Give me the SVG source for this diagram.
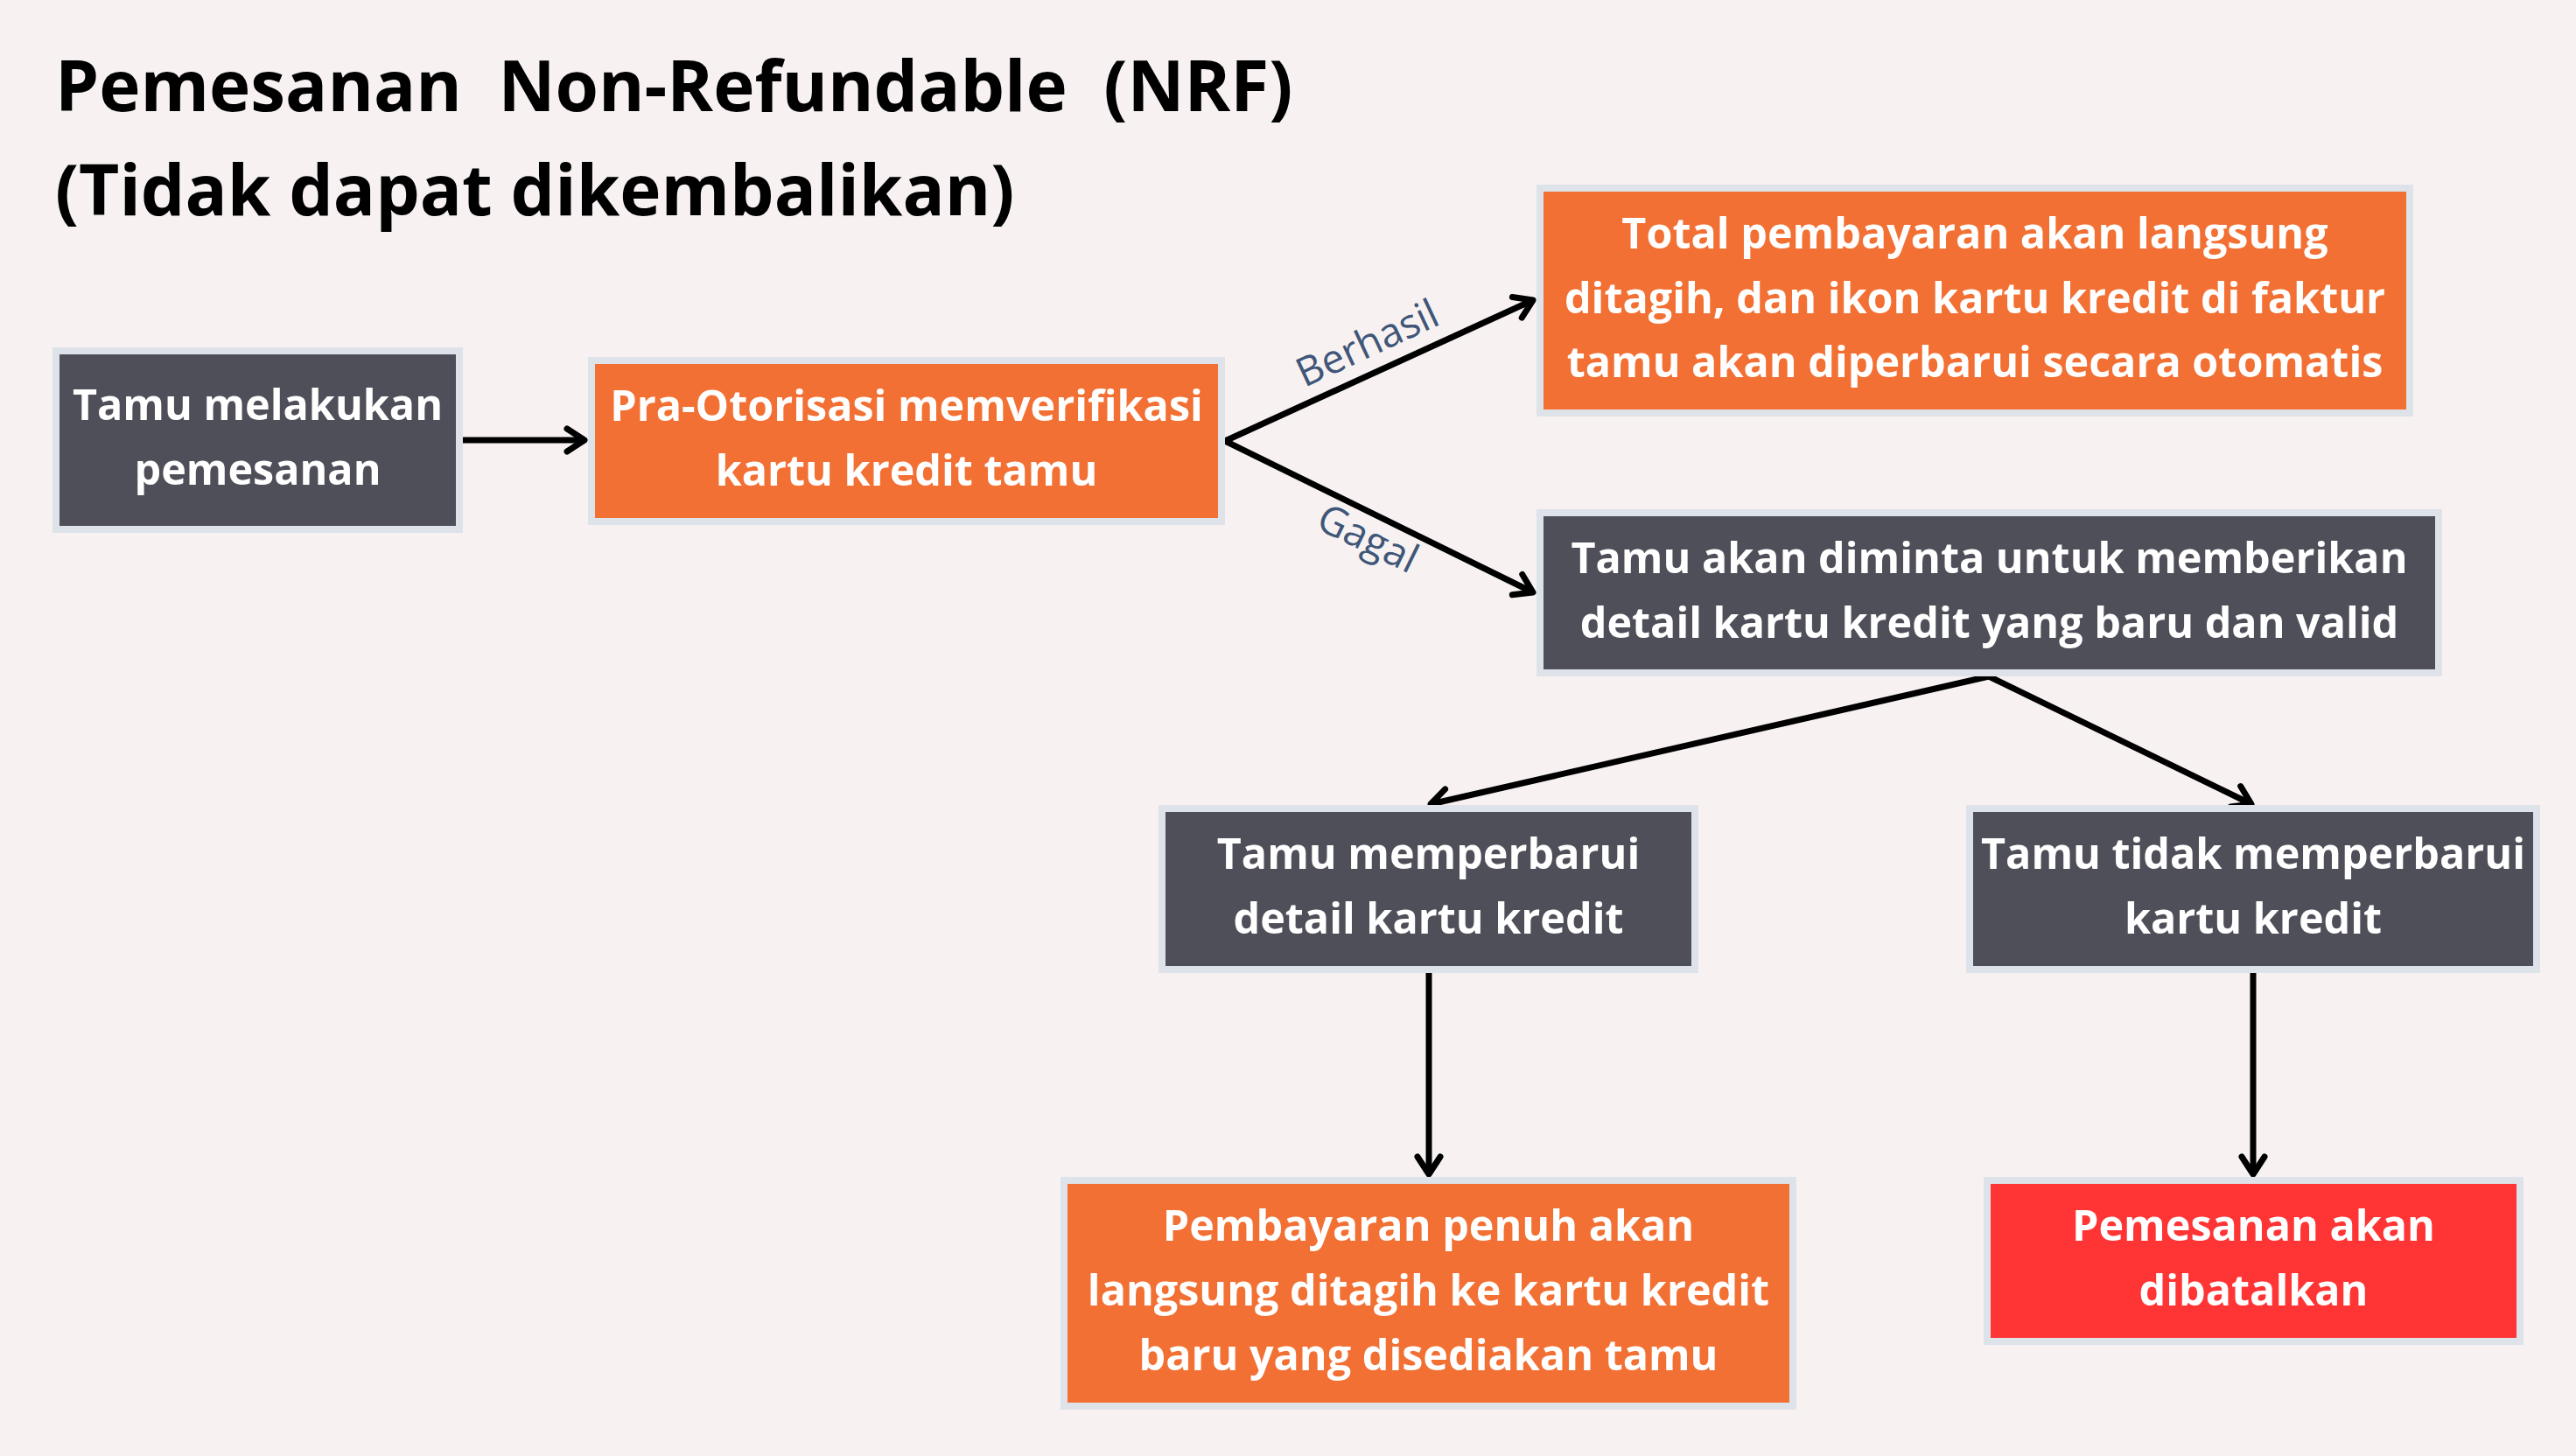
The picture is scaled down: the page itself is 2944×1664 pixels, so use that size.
<svg xmlns="http://www.w3.org/2000/svg" width="2944" height="1664" viewBox="0 0 2944 1664">
<style>
.bg{fill:#f7f2f1}
.box{stroke:#dee2e9;stroke-width:8}
.dark{fill:#4e4f59}
.orange{fill:#f27033}
.red{fill:#ff3434}
.t{font-family:"Open Sans","Noto Sans",sans-serif;font-weight:700;font-size:48.5px;fill:#ffffff;text-anchor:middle}
.title{font-family:"Open Sans","Noto Sans",sans-serif;font-weight:700;font-size:80px;fill:#000000}
.lbl{font-family:"Open Sans","Noto Sans",sans-serif;font-weight:400;font-size:46px;fill:#3f5679;text-anchor:middle}
.edge{fill:none;stroke:#000;stroke-width:7}
</style>
<defs>
<marker id="arr" markerUnits="userSpaceOnUse" orient="auto" refX="0" refY="0" markerWidth="40" markerHeight="40" viewBox="-30 -20 40 40" overflow="visible">
<path d="M -20 -13 L 0 0 L -20 13" fill="none" stroke="#000" stroke-width="7" stroke-linecap="round" stroke-linejoin="round"/>
</marker>
</defs>
<rect class="bg" x="0" y="0" width="2944" height="1664"/>
<g id="title">
<text class="title" x="63" y="127" xml:space="preserve">Pemesanan  Non-Refundable  (NRF)</text>
<text class="title" x="63" y="246">(Tidak dapat dikembalikan)</text>
</g>
<g id="connectors">
<line class="edge" x1="529" y1="503" x2="668" y2="503" marker-end="url(#arr)"/>
<line class="edge" x1="1400" y1="504" x2="1752" y2="343" marker-end="url(#arr)"/>
<line class="edge" x1="1400" y1="504" x2="1752" y2="677" marker-end="url(#arr)"/>
<line class="edge" x1="2273" y1="773" x2="1635" y2="919" marker-end="url(#arr)"/>
<line class="edge" x1="2273" y1="773" x2="2573" y2="919" marker-end="url(#arr)"/>
<line class="edge" x1="1633" y1="1112" x2="1633" y2="1342" stroke-width="6" marker-end="url(#arr)"/>
<line class="edge" x1="2575" y1="1112" x2="2575" y2="1342" stroke-width="6" marker-end="url(#arr)"/>
<text class="lbl" x="0" y="15" transform="translate(1563 393) rotate(-25)">Berhasil</text>
<text class="lbl" x="0" y="15" transform="translate(1563 616) rotate(26)">Gagal</text>
</g>
<g id="n1">
<rect class="box dark" x="64" y="401" width="461" height="204"/>
<text class="t" x="294.5" y="480">Tamu melakukan</text>
<text class="t" x="294.5" y="554">pemesanan</text>
</g>
<g id="n2">
<rect class="box orange" x="676" y="412" width="720" height="184"/>
<text class="t" x="1036" y="481">Pra-Otorisasi memverifikasi</text>
<text class="t" x="1036" y="555">kartu kredit tamu</text>
</g>
<g id="n3">
<rect class="box orange" x="1760" y="215" width="994" height="257"/>
<text class="t" x="2257" y="284">Total pembayaran akan langsung</text>
<text class="t" x="2257" y="358">ditagih, dan ikon kartu kredit di faktur</text>
<text class="t" x="2257" y="431">tamu akan diperbarui secara otomatis</text>
</g>
<g id="n4">
<rect class="box dark" x="1760" y="586" width="1027" height="183"/>
<text class="t" x="2273.5" y="655">Tamu akan diminta untuk memberikan</text>
<text class="t" x="2273.5" y="729">detail kartu kredit yang baru dan valid</text>
</g>
<g id="n5">
<rect class="box dark" x="1328" y="924" width="609" height="184"/>
<text class="t" x="1632.5" y="993">Tamu memperbarui</text>
<text class="t" x="1632.5" y="1067">detail kartu kredit</text>
</g>
<g id="n6">
<rect class="box dark" x="2251" y="924" width="648" height="184"/>
<text class="t" x="2575" y="993">Tamu tidak memperbarui</text>
<text class="t" x="2575" y="1067">kartu kredit</text>
</g>
<g id="n7">
<rect class="box orange" x="1216" y="1349" width="833" height="258"/>
<text class="t" x="1632.5" y="1418">Pembayaran penuh akan</text>
<text class="t" x="1632.5" y="1492">langsung ditagih ke kartu kredit</text>
<text class="t" x="1632.5" y="1566">baru yang disediakan tamu</text>
</g>
<g id="n8">
<rect class="box red" x="2271" y="1349" width="609" height="184"/>
<text class="t" x="2575.5" y="1418">Pemesanan akan</text>
<text class="t" x="2575.5" y="1492">dibatalkan</text>
</g>
</svg>
